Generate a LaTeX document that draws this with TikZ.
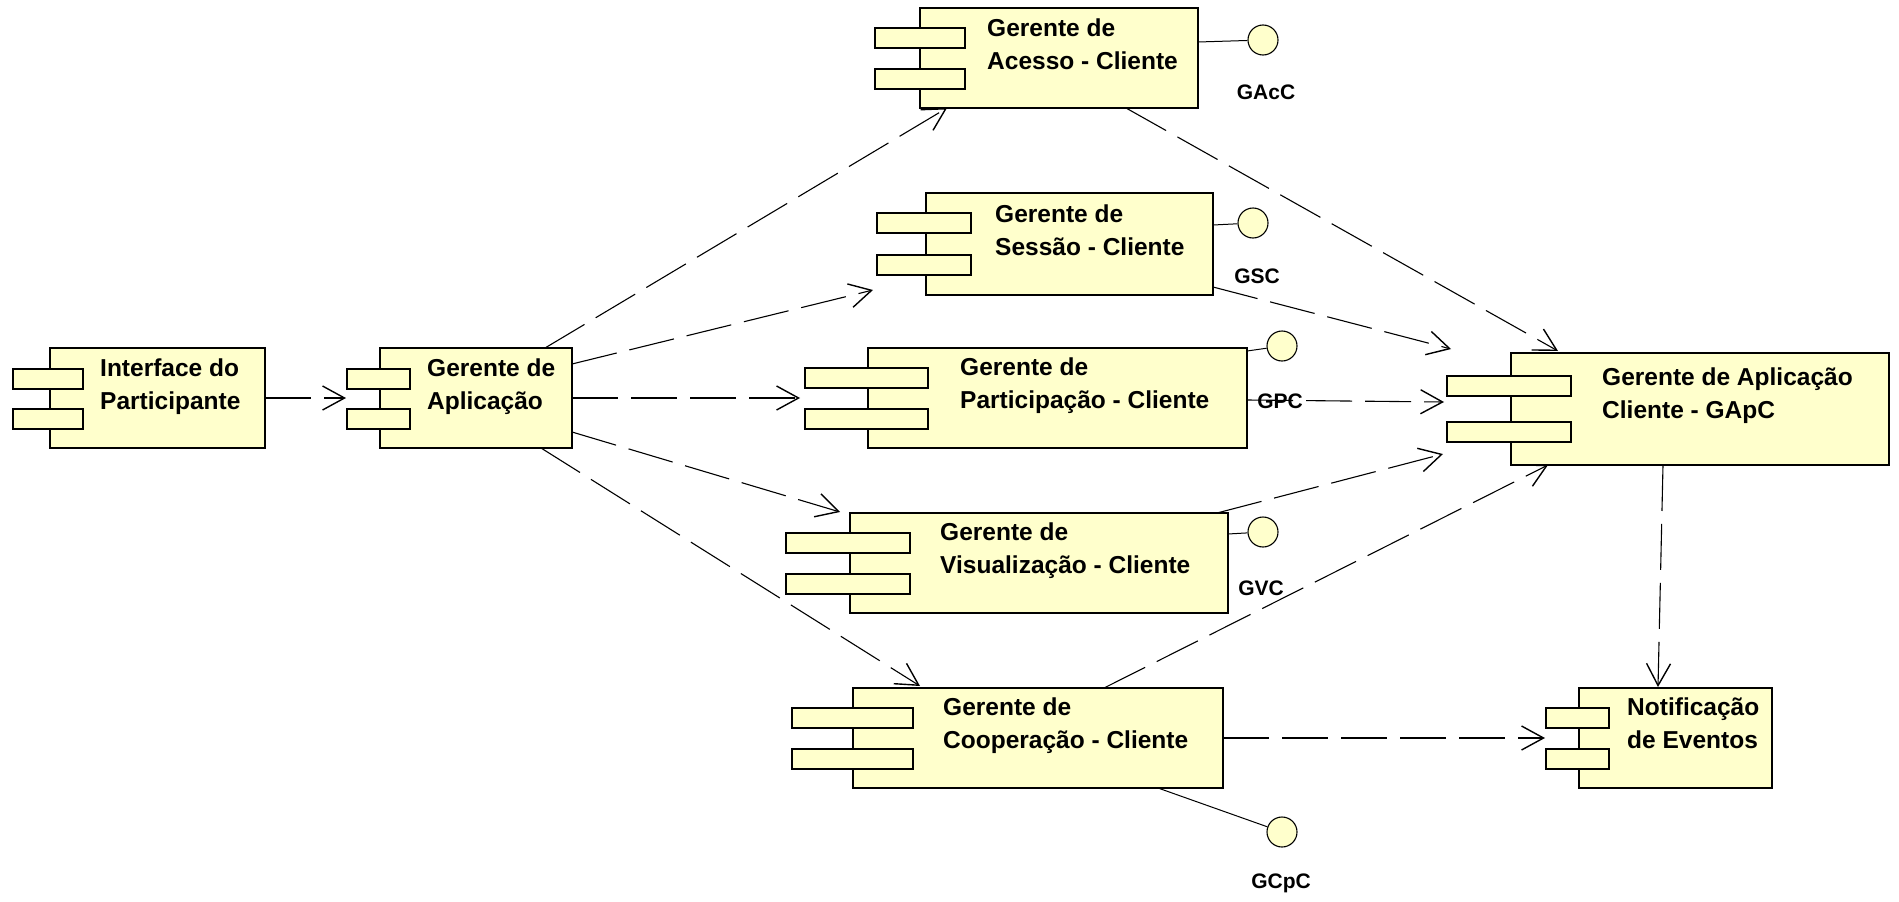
\documentclass[tikz,border=0pt]{standalone}
\usepackage{fontspec}
\setmainfont{Liberation Sans}
\usetikzlibrary{arrows.meta}
\definecolor{compfill}{HTML}{FFFFCC}
\newcommand{\umlcomp}[9]{%
  \node[mainbox, anchor=north west, minimum width={(#4)-(#2)}, minimum height={(#5)-(#3)}] (#1) at (#2,#3) {};
  \node[tabbox, anchor=north west, minimum width={(#7)-(#6)}, minimum height=20] (#1-t1) at (#6,#8) {};
  \node[tabbox, anchor=north west, minimum width={(#7)-(#6)}, minimum height=20] (#1-t2) at (#6,#9) {};
}
\begin{document}
\begin{tikzpicture}[x=1pt,y=-1pt,
  mainbox/.style={draw=black, line width=1.5pt, fill=compfill, rectangle, inner sep=0pt, outer sep=0pt},
  tabbox/.style={draw=black, line width=1.3pt, fill=compfill, rectangle, inner sep=0pt, outer sep=0pt},
  lbl/.style={font=\bfseries\fontsize{24.5}{33}\selectfont, anchor=base west, inner sep=0pt},
  iflbl/.style={font=\bfseries\fontsize{21}{25}\selectfont, anchor=base, inner sep=0pt},
  dep/.style={line width=1.1pt, dash pattern=on 46pt off 13pt, -{Straight Barb[length=22pt,width=24pt,line width=1.4pt]}},
  lolly/.style={circle, draw=black, line width=1.1pt, fill=compfill, minimum size=30pt, inner sep=0pt},
  stick/.style={line width=1pt}
]
\fill[white] (0,0) rectangle (1899,902);
\useasboundingbox (0,0) rectangle (1899,902);

% components
\umlcomp{ip}{50}{348}{265}{448}{13}{83}{369}{409}
\umlcomp{ga}{380}{348}{572}{448}{347}{410}{369}{409}
\umlcomp{gac}{920}{8}{1198}{108}{875}{965}{28}{69}
\umlcomp{gsc}{926}{193}{1213}{295}{877}{971}{213}{255}
\umlcomp{gpc}{868}{348}{1247}{448}{805}{928}{368}{409}
\umlcomp{gvc}{850}{513}{1228}{613}{786}{910}{533}{574}
\umlcomp{gcp}{853}{688}{1223}{788}{792}{913}{708}{749}
\umlcomp{gapc}{1511}{353}{1889}{465}{1447}{1571}{376}{422}
\umlcomp{nev}{1579}{688}{1772}{788}{1546}{1609}{708}{749}

% labels
\node[lbl] (ip-l1) at (100,376) {Interface do};
\node[lbl] (ip-l2) at (100,409) {Participante};
\node[lbl] (ga-l1) at (427,376) {Gerente de};
\node[lbl] (ga-l2) at (427,409) {Aplicação};
\node[lbl] (gac-l1) at (987,36) {Gerente de};
\node[lbl] (gac-l2) at (987,69) {Acesso - Cliente};
\node[lbl] (gsc-l1) at (995,222) {Gerente de};
\node[lbl] (gsc-l2) at (995,255) {Sessão - Cliente};
\node[lbl] (gpc-l1) at (960,375) {Gerente de};
\node[lbl] (gpc-l2) at (960,408) {Participação - Cliente};
\node[lbl] (gvc-l1) at (940,540) {Gerente de};
\node[lbl] (gvc-l2) at (940,573) {Visualização - Cliente};
\node[lbl] (gcp-l1) at (943,715) {Gerente de};
\node[lbl] (gcp-l2) at (943,748) {Cooperação - Cliente};
\node[lbl] (gapc-l1) at (1602,385) {Gerente de Aplicação};
\node[lbl] (gapc-l2) at (1602,418) {Cliente - GApC};
\node[lbl] (nev-l1) at (1627,715) {Notificação};
\node[lbl] (nev-l2) at (1627,748) {de Eventos};

% interfaces (lollipops)
\node[lolly] (gac-i) at (1263,40) {};
\node[lolly] (gsc-i) at (1253,223) {};
\node[lolly] (gpc-i) at (1282,346) {};
\node[lolly] (gvc-i) at (1263,532) {};
\node[lolly] (gcp-i) at (1282,832) {};
\coordinate (gac-s) at (1198,42);
\coordinate (gsc-s) at (1213,225);
\coordinate (gpc-s) at (1247,351);
\coordinate (gvc-s) at (1228,534);
\coordinate (gcp-s) at (1158,788);
\draw[stick] (gac-s) -- (gac-i);
\draw[stick] (gsc-s) -- (gsc-i);
\draw[stick] (gpc-s) -- (gpc-i);
\draw[stick] (gvc-s) -- (gvc-i);
\draw[stick] (gcp-s) -- (gcp-i);
\node[iflbl] (gac-n) at (1266,99) {GAcC};
\node[iflbl] (gsc-n) at (1257,283) {GSC};
\node[iflbl] (gpc-n) at (1280,408) {GPC};
\node[iflbl] (gvc-n) at (1261,595) {GVC};
\node[iflbl] (gcp-n) at (1281,888) {GCpC};

% connector end points
\coordinate (ip-o) at (265,398);
\coordinate (ga-i) at (346,398);
\coordinate (ga-o1) at (545,348);
\coordinate (ga-o2) at (572,364);
\coordinate (ga-o3) at (572,398);
\coordinate (ga-o4) at (572,432);
\coordinate (ga-o5) at (541,448);
\coordinate (gac-in) at (947,108);
\coordinate (gsc-in) at (873,290);
\coordinate (gpc-in) at (800,398);
\coordinate (gvc-in) at (840,512);
\coordinate (gcp-in) at (920,686);
\coordinate (gac-o) at (1126,108);
\coordinate (gsc-o) at (1213,287);
\coordinate (gpc-o) at (1247,400);
\coordinate (gvc-o) at (1217,513);
\coordinate (gcp-o1) at (1104,688);
\coordinate (gcp-o2) at (1223,738);
\coordinate (gapc-i1) at (1558,351);
\coordinate (gapc-i2) at (1451,349);
\coordinate (gapc-i3) at (1444,402);
\coordinate (gapc-i4) at (1443,454);
\coordinate (gapc-i5) at (1548,465);
\coordinate (gapc-o) at (1663,465);
\coordinate (nev-i1) at (1658,687);
\coordinate (nev-i2) at (1545,738);

% dependencies
\draw[dep] (ip-o) -- (ga-i);
\draw[dep] (ga-o1) -- (gac-in);
\draw[dep] (ga-o2) -- (gsc-in);
\draw[dep] (ga-o3) -- (gpc-in);
\draw[dep] (ga-o4) -- (gvc-in);
\draw[dep] (ga-o5) -- (gcp-in);
\draw[dep] (gac-o) -- (gapc-i1);
\draw[dep] (gsc-o) -- (gapc-i2);
\draw[dep] (gpc-o) -- (gapc-i3);
\draw[dep] (gvc-o) -- (gapc-i4);
\draw[dep] (gcp-o1) -- (gapc-i5);
\draw[dep] (gapc-o) -- (nev-i1);
\draw[dep] (gcp-o2) -- (nev-i2);
\end{tikzpicture}
\end{document}
